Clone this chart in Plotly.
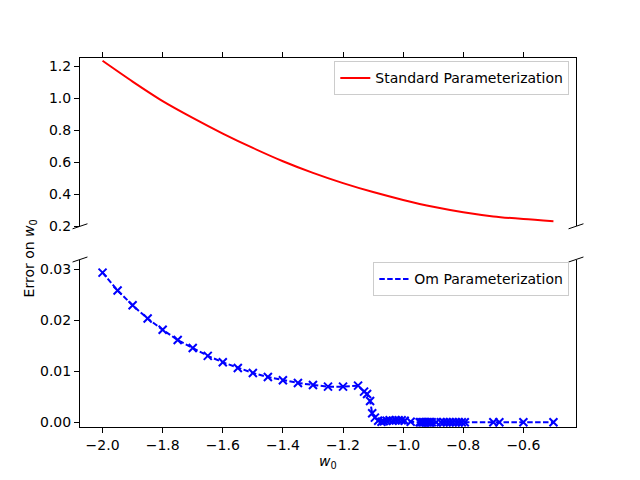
# Broken-axis comparison of the error on w0 for two parameterizations
import plotly.graph_objects as go
from plotly.subplots import make_subplots

# Standard parameterization (top panel)
w0_std: list[float] = [
    -2.0, -1.9, -1.8, -1.7, -1.6, -1.5, -1.4, -1.3,
    -1.2, -1.1, -1.0, -0.9, -0.8, -0.7, -0.6, -0.5,
]
err_std: list[float] = [
    1.235, 1.105, 0.983, 0.878, 0.780, 0.690, 0.607, 0.534,
    0.470, 0.414, 0.365, 0.322, 0.288, 0.262, 0.245, 0.232,
]

# Om parameterization (bottom panel)
w0_om: list[float] = [
    -2.0, -1.95, -1.9, -1.85, -1.8, -1.75, -1.7, -1.65, -1.6, -1.55,
    -1.5, -1.45, -1.4, -1.35, -1.3, -1.25, -1.2, -1.15, -1.13, -1.12,
    -1.11, -1.103, -1.094, -1.083, -1.072, -1.065, -1.055, -1.045, -1.035, -1.025,
    -1.015, -1.005, -0.995, -0.975, -0.945, -0.94, -0.935, -0.93, -0.925, -0.92,
    -0.915, -0.91, -0.905, -0.89, -0.875, -0.865, -0.855, -0.845, -0.835, -0.825,
    -0.815, -0.805, -0.795, -0.70, -0.68, -0.60, -0.50,
]
err_om: list[float] = [
    0.0293, 0.0258, 0.0229, 0.0203, 0.0181, 0.0161, 0.01455, 0.0130, 0.01174, 0.01063,
    0.00965, 0.00887, 0.00822, 0.0077, 0.00731, 0.00698, 0.00698, 0.00718, 0.0060, 0.00554,
    0.00417, 0.00176, 0.00091, 0.0003, 0.0001, 0.0002, 0.0003, 0.0004, 0.0003, 0.0004,
    0.0004, 0.0004, 0.0003, 0.0001, 0.0, 0.0, 0.0, 0.0, 0.0, 0.0,
    0.0, 0.0, 0.0, 0.0, 0.0, 0.0, 0.0, 0.0, 0.0, 0.0,
    0.0, 0.0, 0.0, 0.0, 0.0, 0.0, 0.0,
]

x_ticks: list[float] = [-2.0, -1.8, -1.6, -1.4, -1.2, -1.0, -0.8, -0.6]
top_ticks: list[float] = [0.2, 0.4, 0.6, 0.8, 1.0, 1.2]
bottom_ticks: list[float] = [0.0, 0.01, 0.02, 0.03]

font = dict(family="DejaVu Sans", size=14, color="black")

fig = make_subplots(rows=2, cols=1, shared_xaxes=False, vertical_spacing=0.09)

# Top panel: red solid line
fig.add_trace(
    go.Scatter(
        x=w0_std,
        y=err_std,
        mode="lines",
        name="Standard Parameterization",
        line=dict(color="#ff0000", width=2, shape="spline", smoothing=0.8),
        legend="legend",
    ),
    row=1,
    col=1,
)

# Bottom panel: blue dashed line with x markers (legend shows the line only)
fig.add_trace(
    go.Scatter(
        x=w0_om,
        y=err_om,
        mode="lines+markers",
        showlegend=False,
        line=dict(color="#0000ff", width=2, dash="5.5px,2.4px"),
        marker=dict(symbol="x-thin", size=8, line=dict(width=2, color="#0000ff")),
    ),
    row=2,
    col=1,
)
fig.add_trace(
    go.Scatter(
        x=[None],
        y=[None],
        mode="lines",
        name="Om Parameterization",
        line=dict(color="#0000ff", width=2, dash="5.5px,2.4px"),
        legend="legend2",
    ),
    row=2,
    col=1,
)

axis_common = dict(
    showgrid=False,
    zeroline=False,
    showline=True,
    linecolor="black",
    linewidth=1,
    ticks="outside",
    ticklen=5,
    tickwidth=1,
    tickcolor="black",
    tickfont=font,
)

# The page puts the figure 8px in from the top-left corner
fig.update_layout(
    width=632,
    height=472,
    margin=dict(l=72, r=64, t=50, b=53),
    plot_bgcolor="white",
    paper_bgcolor="white",
    font=font,
    xaxis=dict(
        axis_common,
        domain=[0, 1],
        range=[-2.075, -0.425],
        side="top",
        tickvals=x_ticks,
        showticklabels=False,
        matches="x2",
    ),
    yaxis=dict(
        axis_common,
        domain=[0.5439, 1],
        range=[0.2, 1.2525],
        tickvals=top_ticks,
        tickformat=".1f",
        mirror=True,
    ),
    xaxis2=dict(
        axis_common,
        domain=[0, 1],
        range=[-2.075, -0.425],
        tickvals=x_ticks,
        tickformat=".1f",
    ),
    yaxis2=dict(
        axis_common,
        domain=[0, 0.4539],
        range=[-0.00092, 0.03186],
        tickvals=bottom_ticks,
        tickformat=".2f",
        mirror=True,
    ),
    legend=dict(
        x=0.9865,
        y=0.991,
        xanchor="right",
        yanchor="top",
        bgcolor="rgba(255,255,255,0.8)",
        bordercolor="#cccccc",
        borderwidth=1,
        font=font,
        itemwidth=30,
    ),
    legend2=dict(
        x=0.9865,
        y=0.446,
        xanchor="right",
        yanchor="top",
        bgcolor="rgba(255,255,255,0.8)",
        bordercolor="#cccccc",
        borderwidth=1,
        font=font,
        itemwidth=30,
    ),
)

# Diagonal break marks at the cut between the two panels
d = 0.015
for x0 in [0, 1]:
    fig.add_shape(
        type="line", xref="x domain", yref="y domain",
        x0=x0 - d, y0=-d, x1=x0 + d, y1=d,
        line=dict(color="black", width=1),
    )
    fig.add_shape(
        type="line", xref="x2 domain", yref="y2 domain",
        x0=x0 - d, y0=1 - d, x1=x0 + d, y1=1 + d,
        line=dict(color="black", width=1),
    )

# Shared axis labels
fig.add_annotation(
    text="Error on <i>w</i><sub>0</sub>",
    xref="paper", yref="paper",
    x=-0.1, y=0.458,
    xanchor="center", yanchor="middle",
    textangle=-90,
    showarrow=False,
    font=font,
)
fig.add_annotation(
    text="<i>w</i><sub>0</sub>",
    xref="paper", yref="paper",
    x=0.5, y=-0.095,
    xanchor="center", yanchor="middle",
    showarrow=False,
    font=font,
)

fig.write_html("out.html")
